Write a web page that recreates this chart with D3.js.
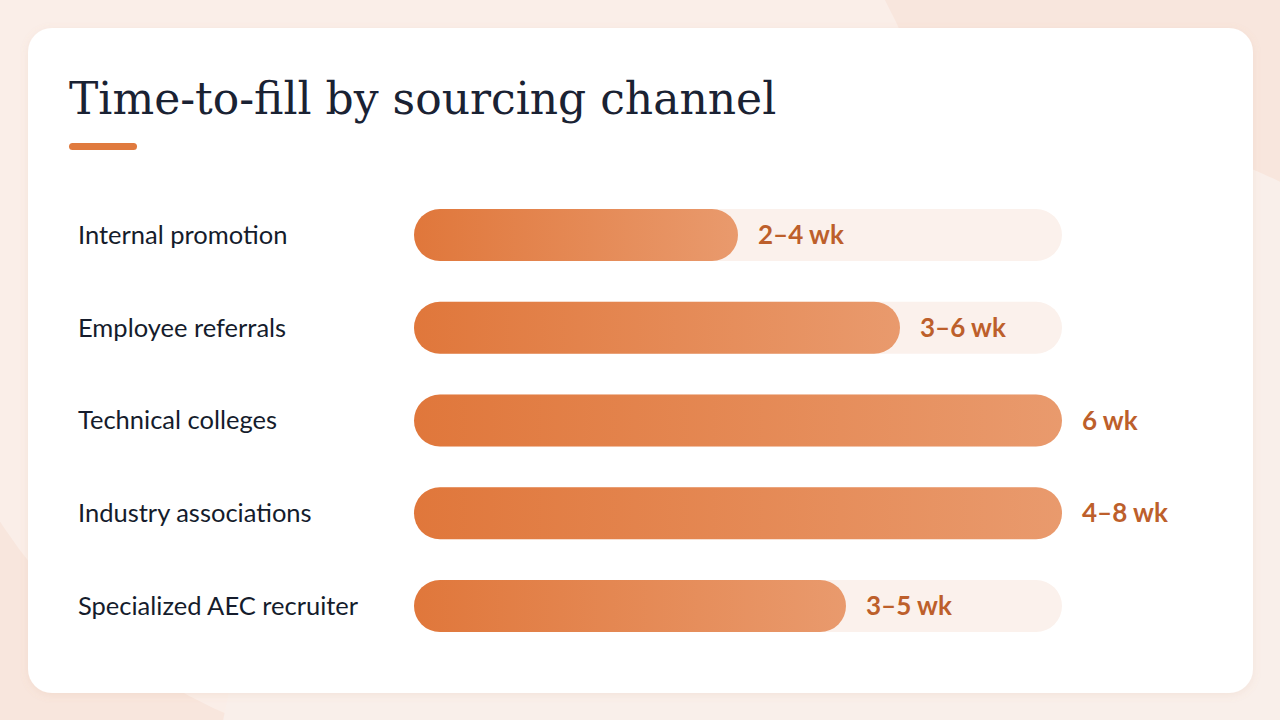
<!DOCTYPE html>
<html lang="en">
<head>
	<meta charset="UTF-8">
	<title>Time-to-fill by sourcing channel</title>
	<style>
		html, body { margin: 0; padding: 0; background: #f8e6dd; }
		svg { display: block; }
		.label { font-family: Lato, "Open Sans", sans-serif; font-size: 25.5px; fill: #151c2c; }
		.value { font-family: Lato, "Open Sans", sans-serif; font-size: 26px; font-weight: 700; fill: #bd5f2b; }
		.title { font-family: "DejaVu Serif", serif; font-size: 44px; fill: #1a2233; }
	</style>
</head>
<body>
	<script src="https://d3js.org/d3.v7.min.js"></script>
	<script>
		var width = 1280;
		var height = 720;

		// data (weeks); bar length = midpoint of the range, capped at 6
		var channels = ['Internal promotion', 'Employee referrals', 'Technical colleges', 'Industry associations', 'Specialized AEC recruiter'];
		var rangeLabels = ['2–4 wk', '3–6 wk', '6 wk', '4–8 wk', '3–5 wk'];
		var weeks = [3, 4.5, 6, 6, 4];
		var maxWeeks = 6;

		var rows = channels.map(function(c, i){
			return { name: c, label: rangeLabels[i], value: weeks[i] };
		});

		var x = d3.scaleLinear().domain([0, maxWeeks]).range([414, 1062]).clamp(true);
		var y = d3.scalePoint().domain(channels).range([235, 606]);
		var barH = 52;

		var svg = d3.select('body')
					.append('svg')
					.attr('width', width)
					.attr('height', height);

		var defs = svg.append('defs');
		var grad = defs.append('linearGradient')
					.attr('id', 'barGrad')
					.attr('x1', '0%').attr('x2', '100%')
					.attr('y1', '0%').attr('y2', '0%');
		grad.append('stop').attr('offset', '0%').attr('stop-color', '#e0773b');
		grad.append('stop').attr('offset', '100%').attr('stop-color', '#e99a6d');

		var shadow = defs.append('filter').attr('id', 'cardShadow')
					.attr('x', '-5%').attr('y', '-5%').attr('width', '110%').attr('height', '110%');
		shadow.append('feDropShadow').attr('dx', 0).attr('dy', 2).attr('stdDeviation', 4)
			.attr('flood-color', '#c98a6a').attr('flood-opacity', 0.12);

		// soft background blobs
		svg.append('rect').attr('width', width).attr('height', height).attr('fill', '#f8e6dd');
		svg.append('circle').attr('cx', 432).attr('cy', 243).attr('r', 514).attr('fill', '#faeee8');
		svg.append('circle').attr('cx', 960).attr('cy', 860).attr('r', 750).attr('fill', '#f9efea');

		// card
		svg.append('rect')
			.attr('x', 28).attr('y', 28)
			.attr('width', 1225).attr('height', 665)
			.attr('rx', 24)
			.attr('fill', '#ffffff')
			.attr('filter', 'url(#cardShadow)');

		svg.append('text')
			.attr('class', 'title')
			.attr('x', 69).attr('y', 114)
			.text('Time-to-fill by sourcing channel');

		svg.append('rect')
			.attr('x', 69).attr('y', 143)
			.attr('width', 68).attr('height', 7)
			.attr('rx', 3.5)
			.attr('fill', '#e07a3e');

		var row = svg.selectAll('g.row')
			.data(rows)
			.enter()
			.append('g')
			.attr('class', 'row')
			.attr('transform', function(d){ return 'translate(0,' + y(d.name) + ')'; });

		row.append('text')
			.attr('class', 'label')
			.attr('x', 78)
			.attr('dy', '0.35em')
			.text(function(d){ return d.name; });

		row.append('rect')
			.attr('x', x(0))
			.attr('y', -barH / 2)
			.attr('width', x(maxWeeks) - x(0))
			.attr('height', barH)
			.attr('rx', barH / 2)
			.attr('fill', '#fbf1ec');

		row.append('rect')
			.attr('x', x(0))
			.attr('y', -barH / 2)
			.attr('width', function(d){ return x(d.value) - x(0); })
			.attr('height', barH)
			.attr('rx', barH / 2)
			.attr('fill', 'url(#barGrad)');

		row.append('text')
			.attr('class', 'value')
			.attr('x', function(d){ return x(d.value) + 20; })
			.attr('dy', '0.35em')
			.text(function(d){ return d.label; });
	</script>
</body>
</html>
